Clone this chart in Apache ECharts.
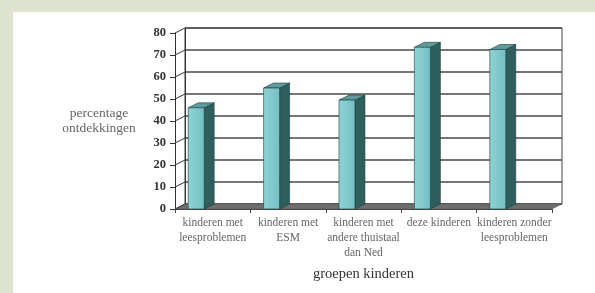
<!DOCTYPE html>
<html>
<head>
<meta charset="utf-8">
<script src="https://cdn.jsdelivr.net/npm/echarts@6/dist/echarts.min.js"></script>
<style>
  html, body { margin: 0; padding: 0; background: #dde3cd; }
  #myChart { width: 595px; height: 293px; }
</style>
</head>
<body>
<div id="myChart"></div>
<script>
// groepen kinderen
const categories = [
  'kinderen met\nleesproblemen',
  'kinderen met\nESM',
  'kinderen met\nandere thuistaal\ndan Ned',
  'deze kinderen',
  'kinderen zonder\nleesproblemen'
]
// percentage ontdekkingen
const values = [46, 55, 49.5, 73.5, 72.5]
const yTicks = [0, 10, 20, 30, 40, 50, 60, 70, 80]

// diepte-effect (3D)
const DX = 10
const DY = -5

let myChart = echarts.init(document.getElementById('myChart'))

function barItem(params, api) {
  let i = api.value(0)
  let top = api.coord([i, api.value(1)])
  let base = api.coord([i, 0])
  let w = api.size([1, 0])[0]
  let fl = top[0] - w * 0.325
  let fr = top[0] - w * 0.113
  let t = top[1]
  let b = base[1]
  let edge = { stroke: '#1d3b3a', lineWidth: 0.6 }
  return {
    type: 'group',
    children: [
      {
        type: 'polygon',
        shape: { points: [[fr, t], [fr + DX, t + DY], [fr + DX, b + DY], [fr, b]] },
        style: { fill: '#2f5f5c', ...edge }
      },
      {
        type: 'polygon',
        shape: { points: [[fl, t], [fl + DX, t + DY], [fr + DX, t + DY], [fr, t]] },
        style: { fill: '#5d9c9b', ...edge }
      },
      {
        type: 'rect',
        shape: { x: fl, y: t, width: fr - fl, height: b - t },
        style: {
          fill: new echarts.graphic.LinearGradient(0, 0, 1, 0, [
            { offset: 0, color: '#8fd3d6' },
            { offset: 1, color: '#74bfc3' }
          ]),
          ...edge
        }
      }
    ]
  }
}

function floorItem(params, api) {
  let i = api.value(0)
  let c = api.coord([i, 0])
  let w = api.size([1, 0])[0]
  let l = c[0] - w / 2
  let r = c[0] + w / 2
  let y = c[1]
  return {
    type: 'polygon',
    shape: { points: [[l, y], [l + DX, y + DY], [r + DX, y + DY], [r, y]] },
    style: { fill: '#6e6e6e', stroke: '#555', lineWidth: 0.5 }
  }
}

function wallTickItem(params, api) {
  let p = api.coord([0, api.value(0)])
  let w = api.size([1, 0])[0]
  let x = p[0] - w / 2
  return {
    type: 'line',
    shape: { x1: x, y1: p[1], x2: x + DX, y2: p[1] + DY },
    style: { stroke: '#333', lineWidth: 1 }
  }
}

let serif = '"Liberation Serif", "DejaVu Serif", serif'

let option = {
  backgroundColor: '#dde3cd',
  animation: false,
  graphic: [
    {
      type: 'rect',
      left: 13,
      top: 12,
      z: -10,
      silent: true,
      shape: { width: 582, height: 281 },
      style: { fill: '#ffffff' }
    }
  ],
  grid: [
    // voorkant
    { left: 175, right: 43, top: 33, bottom: 84 },
    // achterwand
    {
      left: 185, right: 33, top: 28, bottom: 89,
      show: true, borderColor: '#444', borderWidth: 1, backgroundColor: '#ffffff'
    }
  ],
  xAxis: [
    {
      type: 'category',
      gridIndex: 0,
      data: categories,
      name: 'groepen kinderen',
      nameLocation: 'middle',
      nameGap: 58,
      nameTextStyle: { fontFamily: serif, fontSize: 14.5, color: '#333' },
      axisLine: { show: true, lineStyle: { color: '#444', width: 1 } },
      axisTick: { show: true, alignWithLabel: false, length: 4, lineStyle: { color: '#444' } },
      axisLabel: {
        interval: 0,
        margin: 6,
        fontFamily: serif,
        fontSize: 11.5,
        lineHeight: 15,
        color: '#666'
      },
      splitLine: { show: false }
    },
    {
      type: 'category',
      gridIndex: 1,
      data: categories,
      show: false
    }
  ],
  yAxis: [
    {
      type: 'value',
      gridIndex: 0,
      min: 0,
      max: 80,
      interval: 10,
      name: 'percentage\nontdekkingen',
      nameLocation: 'middle',
      nameRotate: 0,
      nameGap: 76,
      nameTextStyle: { fontFamily: serif, fontSize: 13.5, lineHeight: 15, color: '#666', align: 'center' },
      axisLine: { show: true, lineStyle: { color: '#333', width: 1 } },
      axisTick: { show: true, length: 5, lineStyle: { color: '#333' } },
      axisLabel: { fontFamily: serif, fontSize: 12.5, fontWeight: 'bold', color: '#333', margin: 9 },
      splitLine: { show: false }
    },
    {
      type: 'value',
      gridIndex: 1,
      min: 0,
      max: 80,
      interval: 10,
      axisLine: { show: true, lineStyle: { color: '#333', width: 1 } },
      axisTick: { show: false },
      axisLabel: { show: false },
      splitLine: { show: true, lineStyle: { color: '#4a4a4a', width: 1.5 } }
    }
  ],
  series: [
    {
      type: 'custom',
      name: 'vloer',
      xAxisIndex: 0,
      yAxisIndex: 0,
      renderItem: floorItem,
      data: categories.map((c, i) => [i, 0]),
      z: 1
    },
    {
      type: 'custom',
      name: 'wand',
      xAxisIndex: 0,
      yAxisIndex: 0,
      renderItem: wallTickItem,
      data: yTicks.map(v => [v]),
      encode: { y: 0 },
      z: 1
    },
    {
      type: 'custom',
      name: 'percentage ontdekkingen',
      xAxisIndex: 0,
      yAxisIndex: 0,
      renderItem: barItem,
      data: values.map((v, i) => [i, v]),
      z: 3
    }
  ]
}
myChart.setOption(option, true)
</script>
</body>
</html>
